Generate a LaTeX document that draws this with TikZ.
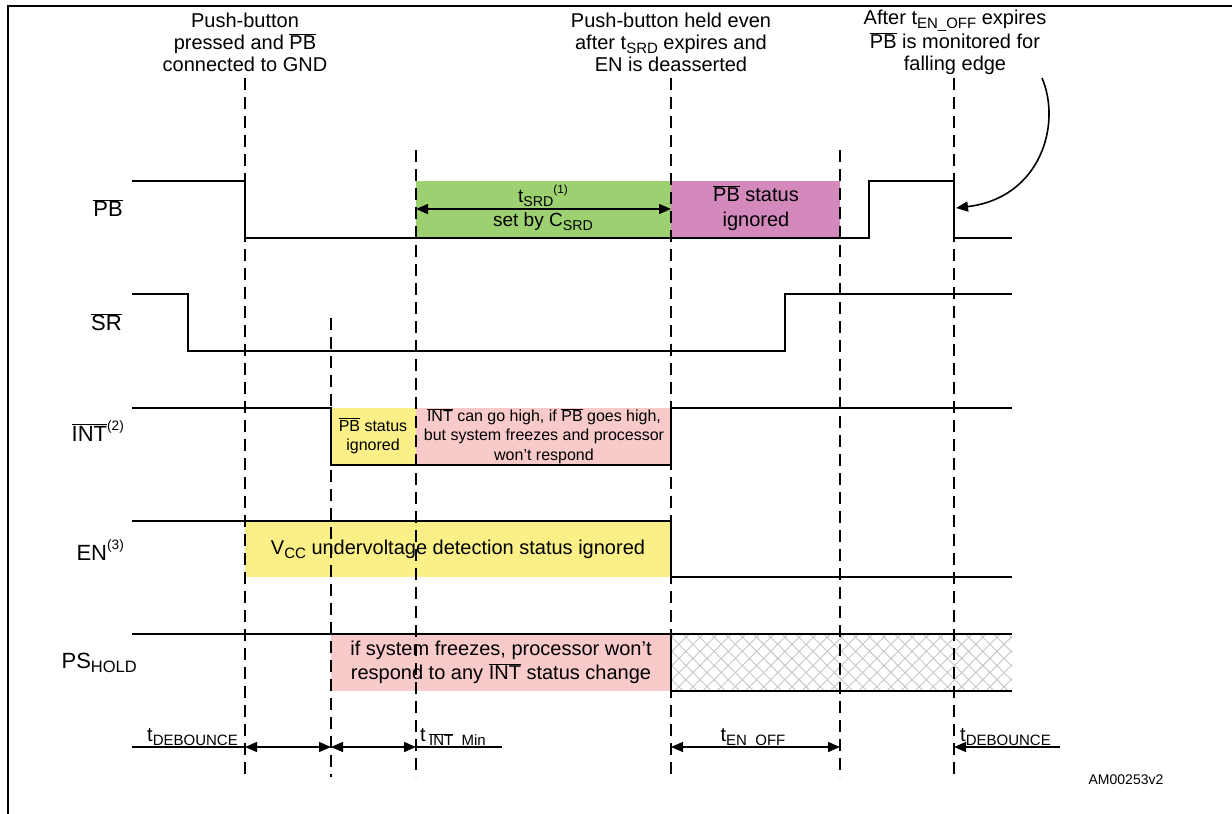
\documentclass[tikz,border=0pt]{standalone}
\usepackage{fontspec}
\setmainfont{Liberation Sans}
\usepackage{graphicx}
\usetikzlibrary{arrows.meta,patterns.meta}
\definecolor{cgreen}{RGB}{157,208,113}
\definecolor{cmag}{RGB}{211,137,188}
\definecolor{cpink}{RGB}{249,202,202}
\definecolor{cyel}{RGB}{250,240,135}
\newcommand\ovl[1]{$\overline{\mbox{#1}}$}
\newcommand\sbs[1]{\raisebox{-0.4ex}{\scalebox{0.75}{#1}}}
\newcommand\sps[1]{\raisebox{0.9ex}{\scalebox{0.62}{#1}}}
\tikzset{
  sig/.style={line width=1.6pt, line join=miter},
  vdash/.style={line width=1.3pt, dash pattern=on 12pt off 7pt},
  txt/.style={inner sep=0pt, align=center, font=\fontsize{20}{22}\selectfont},
  lab/.style={inner sep=0pt, anchor=east, font=\fontsize{22}{24}\selectfont},
  small/.style={inner sep=0pt, align=center, font=\fontsize{16}{19.5}\selectfont},
  dim/.style={line width=1.3pt, {Triangle[length=12pt,width=10pt]}-{Triangle[length=12pt,width=10pt]}},
  tip/.style={-{Triangle[length=12pt,width=10pt]}},
}
\begin{document}
\begin{tikzpicture}[x=1pt,y=-1pt]
\useasboundingbox (0,0) rectangle (1232,814);
\fill[white] (0,0) rectangle (1232,814);
% frame
\draw[line width=1.8pt] (8,814) -- (8,6) -- (1232,6);

% coloured zones
\fill[cgreen] (416,181) rectangle (671,238);
\fill[cmag] (671,181) rectangle (840,238);
\fill[cyel] (331,408) rectangle (416,465);
\fill[cpink] (416,408) rectangle (671,465);
\fill[cyel] (245,521) rectangle (671,577);
\fill[cpink] (331,634) rectangle (671,691);
\fill[pattern={Hatch[angle=45,distance=10pt,line width=0.9pt]}, pattern color=black!22] (671,634) rectangle (1012,691);

% top notes
\node[txt] (n1) at (245,42) {Push-button\\pressed and \ovl{PB}\\connected to GND};
\node[txt] (n2) at (671,42) {Push-button held even\\after t\sbs{SRD} expires and\\EN is deasserted};
\node[txt] (n3) at (955,42) {After t\sbs{EN\_OFF} expires\\\ovl{PB} is monitored for\\falling edge};

% signal labels
\node[lab] (lpb) at (123,208) {\ovl{PB}};
\node[lab] (lsr) at (122,322) {\ovl{SR}};
\node[lab] (lint) at (124,431) {\ovl{INT}\sps{(2)}};
\node[lab] (len) at (124,550) {EN\sps{(3)}};
\node[lab] (lps) at (137,663) {PS\sbs{HOLD}};

% zone texts
\node[txt, font=\fontsize{19}{24}\selectfont] (tsrd) at (543,196) {t\sbs{SRD}\sps{(1)}};
\node[txt, font=\fontsize{19}{24}\selectfont] (csrd) at (543,222) {set by C\sbs{SRD}};
\node[txt, font=\fontsize{20}{25}\selectfont] (pbst) at (756,208) {\ovl{PB} status\\ignored};
\node[small] (pbst2) at (373,436) {\ovl{PB} status\\ignored};
\node[small] (intgo) at (544,436) {\ovl{INT} can go high, if \ovl{PB} goes high,\\but system freezes and processor\\won't respond};
\node[txt] (vcc) at (458,549) {V\sbs{CC} undervoltage detection status ignored};
\node[txt, font=\fontsize{20}{24}\selectfont] (frz) at (501,662) {if system freezes, processor won't\\respond to any \ovl{INT} status change};

% dashed time markers
\draw[vdash] (245,78) -- (245,777);
\draw[vdash] (331,318) -- (331,777);
\draw[vdash] (416,150) -- (416,777);
\draw[vdash] (671,78) -- (671,777);
\draw[vdash] (840,150) -- (840,777);
\draw[vdash] (954,78) -- (954,777);

% waveforms
\draw[sig] (132,181) -- (245,181) -- (245,238) -- (869,238) -- (869,181) -- (954,181) -- (954,238) -- (1012,238);
\draw[sig] (132,294) -- (188,294) -- (188,351) -- (785,351) -- (785,294) -- (1012,294);
\draw[sig] (132,408) -- (331,408) -- (331,465) -- (671,465) -- (671,408) -- (1012,408);
\draw[sig] (132,521) -- (671,521) -- (671,577) -- (1012,577);
\draw[sig] (132,634) -- (1012,634);
\draw[sig] (671,634) -- (671,691) -- (1012,691);

% tSRD dimension
\coordinate (s1) at (416,209);
\coordinate (s2) at (671,209);
\draw[dim] (s1) -- (s2);

% curved pointer
\coordinate (cv0) at (1042,78);
\coordinate (cv1) at (956,208);
\draw[line width=1.6pt, tip] (cv0) .. controls (1062,125) and (1040,198) .. (cv1);

% bottom timing
\coordinate (b0) at (132,747);
\coordinate (b1) at (245,747);
\coordinate (b2) at (331,747);
\coordinate (b3) at (416,747);
\coordinate (b4) at (502,747);
\coordinate (b5) at (671,747);
\coordinate (b6) at (840,747);
\coordinate (b7) at (954,747);
\coordinate (b8) at (1060,747);
\draw[line width=1.3pt] (b0) -- (b1);
\draw[dim] (b1) -- (b2);
\draw[dim] (b2) -- (b3);
\draw[line width=1.3pt] (b3) -- (b4);
\draw[dim] (b5) -- (b6);
\draw[line width=1.3pt, tip] (b8) -- (b7);
\node[txt, anchor=base east] (tdb1) at (238,741) {t\sbs{DEBOUNCE}};
\node[txt, anchor=base west] (tint) at (420,741) {t\,\sbs{\ovl{INT}\_Min}};
\node[txt, anchor=base] (teo) at (753,741) {t\sbs{EN\_OFF}};
\node[txt, anchor=base west] (tdb2) at (960,741) {t\sbs{DEBOUNCE}};
\node[inner sep=0pt, font=\fontsize{14}{16}\selectfont] (am) at (1126,780) {AM00253v2};
\end{tikzpicture}
\end{document}
